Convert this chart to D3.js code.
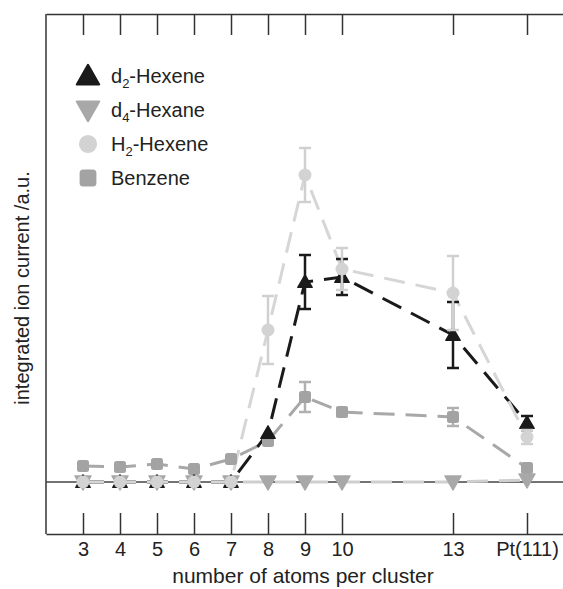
<!DOCTYPE html>
<html><head><meta charset="utf-8">
<script src="https://cdn.jsdelivr.net/npm/d3@7/dist/d3.min.js"></script>
<style>body{margin:0;background:#fff}svg{display:block}text{font-family:"Liberation Sans",Arial,sans-serif}</style>
</head><body>
<svg id="c" width="563" height="589"></svg>
<script>
const xVals = [3,4,5,6,7,8,9,10,13,15];
const tickLabels = ["3","4","5","6","7","8","9","10","13","Pt(111)"];
const d2Hexene = [0,0,0,0,0,0.49,2.0,2.05,1.47,0.59];
const d2Err    = [0,0,0,0,0,0,0.27,0.18,0.33,0.07];
const d4Hexane = [0,0,0,0,0,0,0,0,0,0.02];
const h2Hexene = [0,0,0,0,0,1.52,3.07,2.13,1.89,0.45];
const h2Err    = [0,0,0,0,0,0.34,0.27,0.21,0.37,0.07];
const benzene  = [0.16,0.15,0.18,0.13,0.23,0.41,0.85,0.70,0.65,0.14];
const benzErr  = [0,0,0,0,0,0,0.15,0.04,0.09,0];

const svg = d3.select("#c");
const L=46, R=564, T=14, B=534;
const x = d3.scaleLinear().domain([2,16]).range([L,R]);
const y = d3.scaleLinear().domain([-0.52,4.68]).range([B,T]);

const frameCol="#333";
const ax = svg.append("g").attr("transform",`translate(0,${B})`)
  .call(d3.axisBottom(x).tickValues(xVals).tickFormat((d,i)=>tickLabels[i]).tickSizeInner(-21).tickSizeOuter(0).tickPadding(8));
ax.selectAll("path,line").attr("stroke",frameCol).attr("stroke-width",1.5);
ax.selectAll("text").attr("font-size",20).attr("fill","#222");
const at = svg.append("g").attr("transform",`translate(0,${T})`)
  .call(d3.axisTop(x).tickValues(xVals).tickFormat("").tickSizeInner(-21).tickSizeOuter(0));
at.selectAll("path,line").attr("stroke",frameCol).attr("stroke-width",1.5);
svg.append("line").attr("x1",L).attr("x2",L).attr("y1",T).attr("y2",B).attr("stroke",frameCol).attr("stroke-width",1.5);
svg.append("line").attr("x1",R).attr("x2",R).attr("y1",T).attr("y2",B).attr("stroke",frameCol).attr("stroke-width",1.5);
svg.append("line").attr("x1",L).attr("x2",R).attr("y1",y(0)).attr("y2",y(0)).attr("stroke","#444").attr("stroke-width",1.3);

svg.append("text").attr("x",303).attr("y",583).attr("text-anchor","middle").attr("font-size",21).attr("fill","#222").text("number of atoms per cluster");
svg.append("text").attr("transform","translate(29,288) rotate(-90)").attr("text-anchor","middle").attr("font-size",20).attr("fill","#222").text("integrated ion current /a.u.");

const line = d3.line().x(d=>x(d[0])).y(d=>y(d[1]));
const series = [
  {name:"Benzene", vals:benzene, err:benzErr, mk:"#a3a3a3", ln:"#a8a8a8", ec:"#b0b0b0", sym:"sq"},
  {name:"d4-Hexane", vals:d4Hexane, err:null, mk:"#a8a8a8", ln:"#cfcfcf", ec:"#aaa", sym:"tdown"},
  {name:"d2-Hexene", vals:d2Hexene, err:d2Err, mk:"#1a1a1a", ln:"#1a1a1a", ec:"#1a1a1a", sym:"tup"},
  {name:"H2-Hexene", vals:h2Hexene, err:h2Err, mk:"#d3d3d3", ln:"#d6d6d6", ec:"#d0d0d0", sym:"circ"}
];
function drawSym(g, sym, cx, cy, col, k){
  k = k||1;
  if(sym==="sq") g.append("rect").attr("x",cx-6*k).attr("y",cy-6*k).attr("width",12*k).attr("height",12*k).attr("rx",2.5*k).attr("fill",col);
  else if(sym==="circ") g.append("circle").attr("cx",cx).attr("cy",cy).attr("r",6.5*k).attr("fill",col);
  else if(sym==="tup") g.append("path").attr("d",`M${cx},${cy-8*k}L${cx+8*k},${cy+6*k}L${cx-8*k},${cy+6*k}Z`).attr("fill",col).attr("stroke",col).attr("stroke-width",1.5*k).attr("stroke-linejoin","round");
  else g.append("path").attr("d",`M${cx-8*k},${cy-6*k}L${cx+8*k},${cy-6*k}L${cx},${cy+8*k}Z`).attr("fill",col).attr("stroke",col).attr("stroke-width",1.5*k).attr("stroke-linejoin","round");
}
series.forEach(s=>{
  const pts = xVals.map((v,i)=>[v,s.vals[i]]);
  svg.append("path").datum(pts).attr("d",line).attr("fill","none").attr("stroke",s.ln).attr("stroke-width",3).attr("stroke-dasharray","21,11");
});
series.forEach(s=>{
  const g = svg.append("g");
  xVals.forEach((v,i)=>{
    if(s.err && s.err[i]>0){
      const e=s.err[i], cx=x(v);
      g.append("line").attr("x1",cx).attr("x2",cx).attr("y1",y(s.vals[i]-e)).attr("y2",y(s.vals[i]+e)).attr("stroke",s.ec).attr("stroke-width",2.5);
      [s.vals[i]-e, s.vals[i]+e].forEach(yy=>g.append("line").attr("x1",cx-6).attr("x2",cx+6).attr("y1",y(yy)).attr("y2",y(yy)).attr("stroke",s.ec).attr("stroke-width",2.5));
    }
    drawSym(g, s.sym, x(v), y(s.vals[i]), s.mk, s.sym==="tup"?0.9:1);
  });
});

const leg = [
  {sym:"tup", col:"#1a1a1a", main:"d", sub:"2", rest:"-Hexene"},
  {sym:"tdown", col:"#a8a8a8", main:"d", sub:"4", rest:"-Hexane"},
  {sym:"circ", col:"#d3d3d3", main:"H", sub:"2", rest:"-Hexene"},
  {sym:"sq", col:"#a3a3a3", main:"Benzene", sub:"", rest:""}
];
leg.forEach((l,i)=>{
  const cy = 76 + i*34;
  const g = svg.append("g");
  drawSym(g, l.sym, 88, cy, l.col, 1.4);
  const t = g.append("text").attr("x",111).attr("y",cy+7).attr("font-size",20).attr("fill","#222");
  t.append("tspan").text(l.main);
  if(l.sub){ t.append("tspan").attr("font-size",13).attr("dy",5).text(l.sub); t.append("tspan").attr("dy",-5).text(l.rest); }
});
</script>
</body></html>
